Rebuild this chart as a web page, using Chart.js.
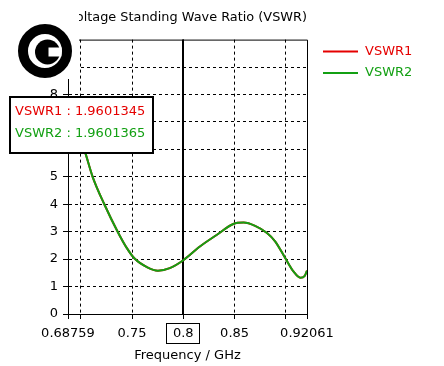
<!DOCTYPE html>
<html>
<head>
<meta charset="utf-8">
<script src="https://cdn.jsdelivr.net/npm/chart.js@4.4.1/dist/chart.umd.min.js"></script>
<style>
  body { margin: 0; background: #fff; }
</style>
</head>
<body>
<canvas id="vswrChart" width="444" height="366"></canvas>
<script>
// Data (frequency in GHz)
const freqs = [0.68759, 0.6926, 0.6985, 0.7044, 0.7116, 0.7230, 0.7360, 0.7450, 0.7525, 0.7650,
  0.7753, 0.7868, 0.8000, 0.8162, 0.8325, 0.8488, 0.8588, 0.8700, 0.8816, 0.8897,
  0.8995, 0.9076, 0.9141, 0.9184, 0.92061];
const vswr1 = [7.85, 7.2, 6.5, 5.88, 5.0, 4.0, 3.0, 2.4, 2.02, 1.70,
  1.58, 1.67, 1.96, 2.46, 2.88, 3.28, 3.33, 3.21, 2.95, 2.64,
  2.03, 1.54, 1.32, 1.39, 1.58];
const vswr2 = [7.85, 7.2, 6.5, 5.88, 5.0, 4.0, 3.0, 2.4, 2.02, 1.70,
  1.58, 1.67, 1.96, 2.46, 2.88, 3.28, 3.33, 3.21, 2.95, 2.64,
  2.03, 1.54, 1.32, 1.39, 1.58];
const xTicks = [0.68759, 0.7, 0.75, 0.8, 0.85, 0.9, 0.92061];
const xTickLabels = ['0.68759', '', '0.75', '0.8', '0.85', '', '0.92061'];
const markerFreq = 0.8;
const markerTexts = ['VSWR1 : 1.9601345', 'VSWR2 : 1.9601365'];

const RED = '#e50000';
const GREEN = '#13a013';
const FONT = '"DejaVu Sans", Verdana, sans-serif';

Chart.defaults.font.family = FONT;
Chart.defaults.font.size = 13;
Chart.defaults.color = '#000';

// marker, frame, readout box, legend and logo
const overlay = {
  id: 'overlay',
  beforeDatasetsDraw(chart) {
    const { ctx, chartArea: a, scales } = chart;
    ctx.save();
    ctx.strokeStyle = '#000';
    ctx.lineWidth = 1;
    ctx.beginPath();
    ctx.moveTo(a.left, a.top + 0.5);
    ctx.lineTo(a.right + 0.5, a.top + 0.5);
    ctx.lineTo(a.right + 0.5, a.bottom);
    ctx.stroke();
    // marker line
    const mx = Math.round(scales.x.getPixelForValue(markerFreq));
    ctx.lineWidth = 2;
    ctx.beginPath();
    ctx.moveTo(mx, a.top);
    ctx.lineTo(mx, a.bottom);
    ctx.stroke();
    ctx.restore();
  },
  afterDraw(chart) {
    const { ctx, chartArea: a, scales } = chart;
    ctx.save();
    // box around marker tick label
    const mx = Math.round(scales.x.getPixelForValue(markerFreq));
    ctx.strokeStyle = '#000';
    ctx.lineWidth = 1;
    ctx.strokeRect(mx - 16.5, a.bottom + 9.5, 33, 20);

    // readout box
    ctx.fillStyle = '#fff';
    ctx.fillRect(10, 97, 143, 56);
    ctx.lineWidth = 2;
    ctx.strokeRect(10, 97, 143, 56);
    ctx.font = '13px ' + FONT;
    ctx.textBaseline = 'middle';
    ctx.textAlign = 'left';
    ctx.fillStyle = RED;
    ctx.fillText(markerTexts[0], 15, 112);
    ctx.fillStyle = GREEN;
    ctx.fillText(markerTexts[1], 15, 133.5);

    // legend
    const items = chart.data.datasets;
    items.forEach((ds, i) => {
      const y = 51.5 + i * 21.5;
      ctx.strokeStyle = ds.borderColor;
      ctx.lineWidth = 2;
      ctx.beginPath();
      ctx.moveTo(323, y);
      ctx.lineTo(358, y);
      ctx.stroke();
      ctx.fillStyle = ds.borderColor;
      ctx.fillText(ds.label, 365, y);
    });

    // logo patch
    ctx.fillStyle = '#fff';
    ctx.fillRect(0, 0, 79, 79);
    ctx.fillStyle = '#000';
    ctx.strokeStyle = '#000';
    ctx.lineWidth = 10;
    ctx.beginPath();
    ctx.arc(45, 51, 22, 0, Math.PI * 2);
    ctx.stroke();
    ctx.beginPath();
    ctx.arc(47.5, 52, 12.5, 0, Math.PI * 2);
    ctx.fill();
    ctx.fillStyle = '#fff';
    ctx.fillRect(48.5, 47.5, 13, 9);
    ctx.restore();
  }
};

const ctx = document.getElementById('vswrChart').getContext('2d');
const vswrChart = new Chart(ctx, {
  type: 'line',
  data: {
    datasets: [{
      label: 'VSWR1',
      data: freqs.map((f, i) => ({ x: f, y: vswr1[i] })),
      borderColor: RED,
      borderWidth: 2,
      pointRadius: 0,
      cubicInterpolationMode: 'monotone',
      fill: false,
      order: 1
    }, {
      label: 'VSWR2',
      data: freqs.map((f, i) => ({ x: f, y: vswr2[i] })),
      borderColor: GREEN,
      borderWidth: 2,
      pointRadius: 0,
      cubicInterpolationMode: 'monotone',
      fill: false,
      order: 0
    }]
  },
  options: {
    responsive: false,
    animation: false,
    layout: { padding: { left: 0, right: 137, top: 0, bottom: 0 } },
    plugins: {
      legend: { display: false },
      tooltip: { enabled: false },
      title: {
        display: true,
        text: 'Voltage Standing Wave Ratio (VSWR)',
        fullSize: false,
        font: { size: 13, weight: 'normal' },
        color: '#000',
        padding: { top: 10, bottom: 14 }
      }
    },
    scales: {
      x: {
        type: 'linear',
        min: 0.68759,
        max: 0.92061,
        afterBuildTicks: (scale) => { scale.ticks = xTicks.map(v => ({ value: v })); },
        afterFit: (scale) => { scale.height = 52; },
        ticks: {
          autoSkip: false,
          maxRotation: 0,
          padding: 7,
          callback: (value, index) => xTickLabels[index]
        },
        grid: {
          color: (c) => (c.index === 0 || c.index === xTicks.length - 1) ? 'rgba(0,0,0,0)' : '#000',
          tickColor: '#000',
          tickLength: 5,
          lineWidth: 1
        },
        border: { display: true, color: '#000', width: 1, dash: [3, 3] },
        title: {
          display: true,
          text: 'Frequency / GHz',
          font: { size: 13 },
          padding: { top: 4, bottom: 3 }
        }
      },
      y: {
        min: 0,
        max: 10,
        afterFit: (scale) => { scale.width = 68; },
        ticks: { stepSize: 1, padding: 5 },
        grid: {
          color: (c) => (c.tick && (c.tick.value === 0 || c.tick.value === 10)) ? 'rgba(0,0,0,0)' : '#000',
          tickColor: '#000',
          tickLength: 5,
          lineWidth: 1
        },
        border: { display: true, color: '#000', width: 1, dash: [3, 3] }
      }
    }
  },
  plugins: [overlay]
});
</script>
</body>
</html>
